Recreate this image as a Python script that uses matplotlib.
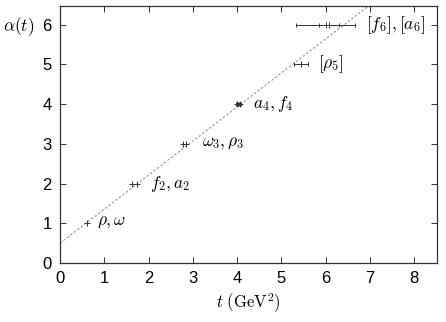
import matplotlib
matplotlib.use("Agg")
import matplotlib.pyplot as plt
import numpy as np

plt.rcParams['font.family'] = ['Liberation Sans', 'DejaVu Sans']
plt.rcParams['mathtext.fontset'] = 'cm'

# data: masses squared (t) and spin (alpha)
t_vals = [0.60, 1.63, 1.73, 2.78, 2.85, 4.00, 4.07, 5.45, 6.00, 6.08]
t_errs = [0.00, 0.00, 0.00, 0.00, 0.00, 0.03, 0.03, 0.16, 0.66, 0.22]
alpha_vals = [1, 2, 2, 3, 3, 4, 4, 5, 6, 6]

intercept = 0.5
slope = 0.857

labels = [r'$\rho,\omega$', r'$f_2,a_2$', r'$\omega_3,\rho_3$', r'$a_4,f_4$',
          r'$[\rho_5]$', r'$[f_6],[a_6]$']
label_t = [0.84, 2.03, 3.2, 4.36, 5.83, 6.92]
label_a = [1, 2, 3, 4, 5, 6]

fig = plt.figure(figsize=(4.46, 3.22), dpi=100)
ax = fig.add_axes([0.1345, 0.183, 0.8455, 0.798])

tl = np.array([0, 8.5])
ax.plot(tl, intercept + slope * tl, color='#888888', lw=0.7, linestyle=(0, (2.5, 2)))

ax.errorbar(t_vals, alpha_vals, xerr=t_errs, fmt='+', color='#333333',
            ms=4, mew=0.7, elinewidth=0.7, capsize=1.5, capthick=0.7)

for lab, x, y in zip(labels, label_t, label_a):
    ax.text(x, y, lab, fontsize=12.5, va='center', ha='left')

ax.set_xlim(0, 8.52)
ax.set_ylim(0, 6.47)
ax.set_xticks(range(0, 9))
ax.set_yticks(range(0, 7))
ax.tick_params(direction='in', top=True, right=True, labelsize=12, length=4,
               width=0.7, color='#333333', pad=6)
for s in ax.spines.values():
    s.set_linewidth(0.9)
    s.set_color('#333333')

ax.set_xlabel(r'$t\ (\mathrm{GeV}^2)$', fontsize=12, labelpad=4)
fig.text(0.007, 0.916, r'$\alpha(t)$', fontsize=12.5, ha='left', va='center')

fig.savefig('out.png', dpi=100)
